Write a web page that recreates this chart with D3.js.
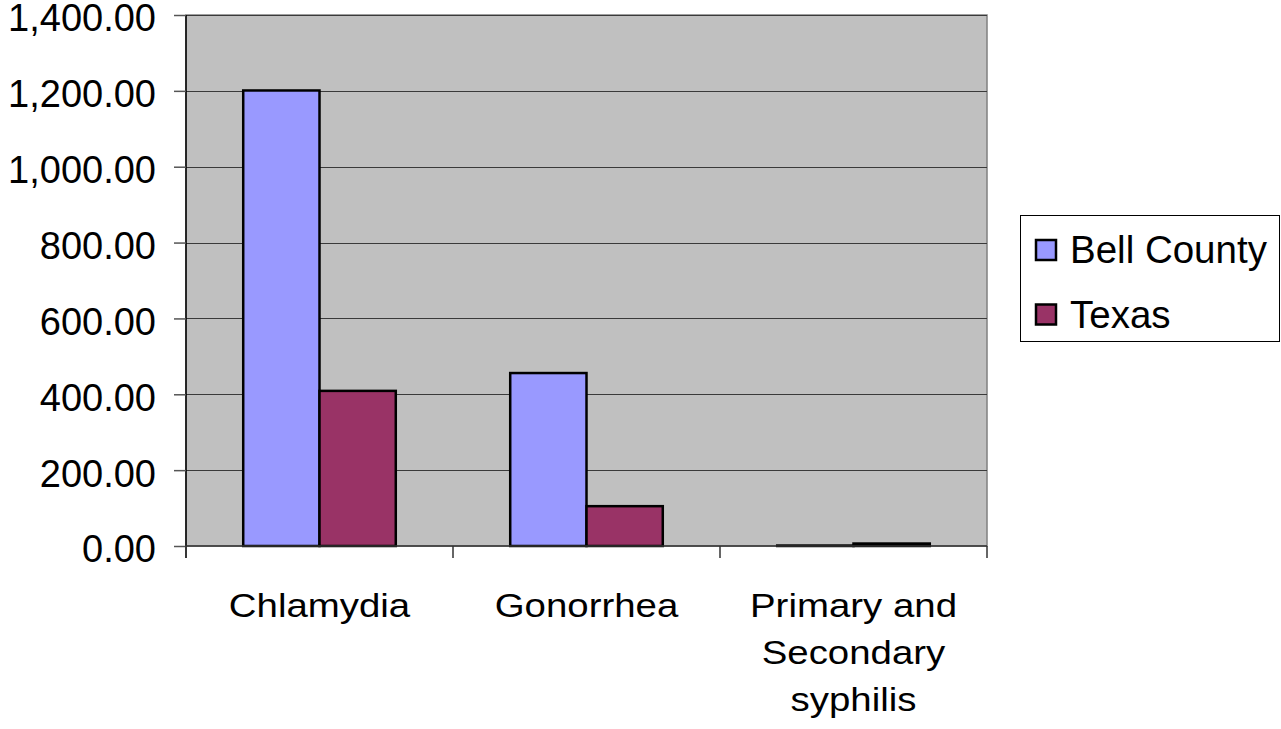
<!DOCTYPE html>
<html><head><meta charset="utf-8">
<script src="https://cdn.jsdelivr.net/npm/d3@7"></script>
<style>body{margin:0;background:#fff}svg{display:block}text{font-family:"Liberation Sans",Arial,sans-serif;fill:#000}</style>
</head><body>
<script>
const categories = ["Chlamydia", "Gonorrhea", "Primary and Secondary syphilis"];
const categoryLines = [["Chlamydia"], ["Gonorrhea"], ["Primary and", "Secondary", "syphilis"]];
const seriesNames = ["Bell County", "Texas"];
const bellCounty = [1201, 456, 1.2];
const texas = [409, 105, 6.5];
const yTicks = [0, 200, 400, 600, 800, 1000, 1200, 1400];
const colors = ["#9999FF", "#993366"];

const W = 1281, H = 729;
const plot = {l: 186, r: 987, t: 15, b: 546};
const svg = d3.select("body").append("svg").attr("width", W).attr("height", H);

const y = d3.scaleLinear().domain([0, 1400]).range([plot.b, plot.t]);
const x0 = d3.scaleBand().domain(categories).range([plot.l, plot.r]).paddingInner(0.4286).paddingOuter(0.2143);
const x1 = d3.scaleBand().domain(seriesNames).range([0, x0.bandwidth()]);

svg.append("rect").attr("x", plot.l).attr("y", plot.t).attr("width", plot.r - plot.l).attr("height", plot.b - plot.t)
  .attr("fill", "#C0C0C0").attr("stroke", "#808080").attr("stroke-width", 1.5);

// gridlines
svg.append("g").selectAll("line").data(yTicks.filter(d => d > 0)).join("line")
  .attr("x1", plot.l).attr("x2", plot.r).attr("y1", d => Math.round(y(d)) + 0.5).attr("y2", d => Math.round(y(d)) + 0.5)
  .attr("stroke", "#3a3a3a").attr("stroke-width", 1);

const data = categories.map((c, i) => ({c, vals: [bellCounty[i], texas[i]]}));
const g = svg.append("g");
data.forEach(d => {
  d.vals.forEach((v, j) => {
    const top = y(v);
    g.append("rect")
      .attr("x", x0(d.c) + x1(seriesNames[j]))
      .attr("y", top)
      .attr("width", x1.bandwidth())
      .attr("height", Math.max(0, plot.b - top))
      .attr("fill", colors[j]).attr("stroke", "#000").attr("stroke-width", 2.5);
  });
});

// y axis
const yAxis = d3.axisLeft(y).tickValues(yTicks).tickSize(12).tickPadding(18).tickFormat(d3.format(",.2f"));
const ya = svg.append("g").attr("transform", `translate(${plot.l},0)`).call(yAxis);
ya.select(".domain").attr("stroke", "#000").attr("stroke-width", 1.5).attr("d", `M0,${plot.t}V${plot.b + 12}`);
ya.selectAll(".tick line").attr("stroke", "#555").attr("stroke-width", 1.5);
ya.selectAll("text").style("font-size", "38px").attr("dy", "0.42em").attr("font-family", "Liberation Sans, Arial, sans-serif");

// x axis
const boundaries = [plot.l, plot.l + (plot.r - plot.l) / 3, plot.l + 2 * (plot.r - plot.l) / 3, plot.r];
svg.append("line").attr("x1", plot.l).attr("x2", plot.r).attr("y1", plot.b).attr("y2", plot.b).attr("stroke", "#333").attr("stroke-width", 1.5);
svg.append("g").selectAll("line").data(boundaries).join("line")
  .attr("x1", d => d).attr("x2", d => d).attr("y1", plot.b).attr("y2", plot.b + 12).attr("stroke", "#333").attr("stroke-width", 1.5);

const xl = svg.append("g");
categories.forEach((c, i) => {
  const cx = x0(c) + x0.bandwidth() / 2;
  categoryLines[i].forEach((ln, k) => {
    xl.append("text").attr("text-anchor", "middle").style("font-size", "34px")
      .attr("transform", `translate(${cx},${617 + k * 47}) scale(1.13,1)`).text(ln);
  });
});

// legend
const lg = svg.append("g");
lg.append("rect").attr("x", 1020.5).attr("y", 215.5).attr("width", 259).attr("height", 126).attr("fill", "#fff").attr("stroke", "#000").attr("stroke-width", 1);
seriesNames.forEach((s, i) => {
  const yy = 240 + i * 64.5;
  lg.append("rect").attr("x", 1036).attr("y", yy).attr("width", 20).attr("height", 20).attr("fill", colors[i]).attr("stroke", "#000").attr("stroke-width", 2.5);
  lg.append("text").attr("x", 1070).attr("y", yy + 23).style("font-size", "38.5px").text(s);
});
</script>
</body></html>
